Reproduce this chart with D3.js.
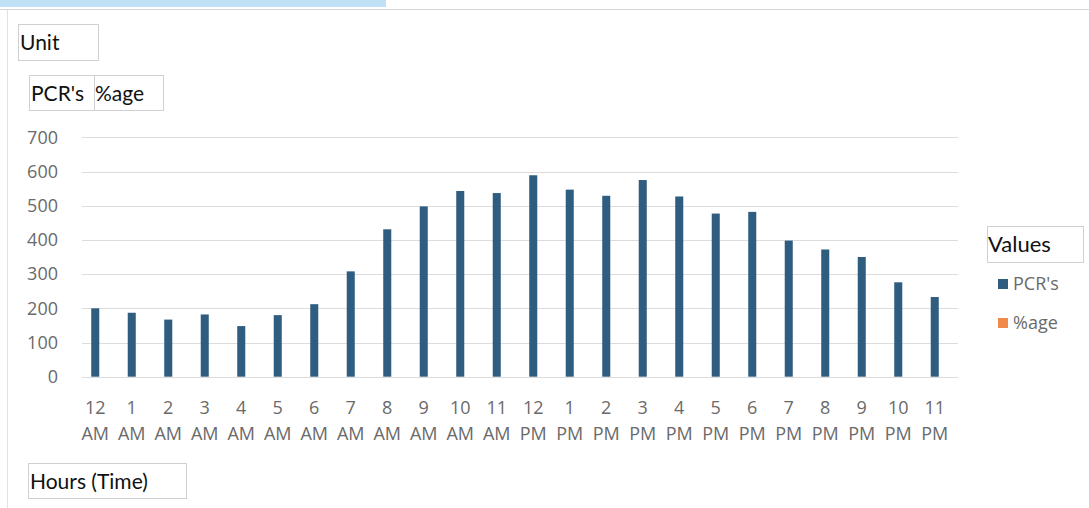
<!DOCTYPE html>
<html><head><meta charset="utf-8">
<script src="https://cdn.jsdelivr.net/npm/d3@7"></script>
<style>body{margin:0;background:#fff}svg{display:block}</style>
</head><body>
<script>
const hours = ["12 AM","1 AM","2 AM","3 AM","4 AM","5 AM","6 AM","7 AM","8 AM","9 AM","10 AM","11 AM",
               "12 PM","1 PM","2 PM","3 PM","4 PM","5 PM","6 PM","7 PM","8 PM","9 PM","10 PM","11 PM"];
const pcrs = [200,187,167,182,148,180,212,308,431,498,543,537,589,547,529,575,527,477,482,398,372,350,276,233];
const yTicks = [0,100,200,300,400,500,600,700];
const legendItems = ["PCR's","%age"];
const legendColors = ["#2f5d80","#f0894a"];

const W=1089,H=508;
const svg=d3.select("body").append("svg").attr("width",W).attr("height",H);
const labelFont="'Open Sans', Roboto, sans-serif";
const boxFont="Lato, 'Noto Sans', sans-serif";

// page chrome
svg.append("rect").attr("x",0).attr("y",0).attr("width",386).attr("height",7).attr("fill","#bfe0f5");
svg.append("line").attr("x1",0).attr("x2",W).attr("y1",9.5).attr("y2",9.5).attr("stroke","#d6d6d6");
svg.append("line").attr("x1",7.5).attr("x2",7.5).attr("y1",10).attr("y2",H).attr("stroke","#e2e2e2");

const x=d3.scaleBand().domain(hours).range([77,953]).paddingInner(0.78).paddingOuter(0.39);
const y=d3.scaleLinear().domain([0,700]).range([376.7,137.3]);

// gridlines
svg.append("g").selectAll("line").data(yTicks).join("line")
  .attr("x1",82).attr("x2",958).attr("y1",d=>Math.round(y(d))+0.5).attr("y2",d=>Math.round(y(d))+0.5)
  .attr("stroke","#dcdcdc").attr("stroke-width",1);

// y axis
const ya=svg.append("g").attr("transform","translate(60,0)").call(d3.axisLeft(y).tickValues(yTicks).tickSize(0).tickPadding(2));
ya.select(".domain").remove();
ya.selectAll("text").attr("font-family",labelFont).attr("font-size",18).attr("fill","#6a6a6a");

// bars
svg.append("g").selectAll("rect").data(pcrs).join("rect")
  .attr("x",(d,i)=>x(hours[i])).attr("width",x.bandwidth())
  .attr("y",d=>y(d)).attr("height",d=>y(0)-y(d)).attr("fill",legendColors[0]);

// x axis
const xa=svg.append("g").attr("transform",`translate(0,${y(0)})`).call(d3.axisBottom(x).tickSize(0).tickFormat(""));
xa.select(".domain").remove();
xa.selectAll(".tick").each(function(d){
  const parts=d.split(" ");
  const g=d3.select(this);
  g.append("text").attr("y",37).attr("text-anchor","middle").attr("font-family",labelFont).attr("font-size",18).attr("fill","#6a6a6a").text(parts[0]);
  g.append("text").attr("y",63).attr("text-anchor","middle").attr("font-family",labelFont).attr("font-size",18).attr("fill","#6a6a6a").text(parts[1]);
});

// boxes
function box(x0,y0,w,h){svg.append("rect").attr("x",x0+0.5).attr("y",y0+0.5).attr("width",w).attr("height",h).attr("fill","none").attr("stroke","#d0d0d0");}
box(18,24,80,36);
svg.append("text").attr("x",20).attr("y",50).attr("font-family",boxFont).attr("font-size",21).attr("fill","#111").text("Unit");
box(29,75,65,35); box(94,75,69,35);
svg.append("text").attr("x",31).attr("y",101).attr("font-family",boxFont).attr("font-size",21).attr("fill","#111").text("PCR's");
svg.append("text").attr("x",95).attr("y",101).attr("font-family",boxFont).attr("font-size",21).attr("fill","#111").text("%age");
box(28,463,158,35);
svg.append("text").attr("x",30).attr("y",489).attr("font-family",boxFont).attr("font-size",21).attr("fill","#111").text("Hours (Time)");

// legend
box(987,226,96,36);
svg.append("text").attr("x",988).attr("y",252).attr("font-family",boxFont).attr("font-size",22).attr("fill","#111").text("Values");
const lg=svg.append("g").selectAll("g").data(legendItems).join("g").attr("transform",(d,i)=>`translate(998,${279+i*39})`);
lg.append("rect").attr("width",10).attr("height",10).attr("fill",(d,i)=>legendColors[i]);
lg.append("text").attr("x",15).attr("y",11).attr("font-family",labelFont).attr("font-size",18).attr("fill","#6a6a6a").text(d=>d);
</script>
</body></html>
